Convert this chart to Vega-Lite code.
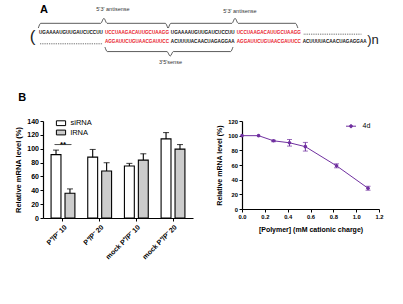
{
  "$schema": "https://vega.github.io/schema/vega-lite/v6.json",
  "background": "white",
  "padding": {"left": 13, "top": 0, "right": 0, "bottom": 0},
  "bounds": "flush",
  "spacing": 21,
  "resolve": {
    "scale": {"color": "independent", "fill": "independent"},
    "legend": {"color": "independent", "fill": "independent"}
  },
  "datasets": {
    "sequence": [
      {"pos": 0, "line": 0, "seq": "UGAAAAUGUUGAUCUCCUU", "kind": "linker"},
      {"pos": 19, "line": 0, "seq": "UCCUAAGACAUUGCUAAGG", "kind": "duplex"},
      {"pos": 38, "line": 0, "seq": "UGAAAAUGUUGAUCUCCUU", "kind": "linker"},
      {"pos": 57, "line": 0, "seq": "UCCUAAGACAUUGCUAAGG", "kind": "duplex"},
      {"pos": 19, "line": 1, "seq": "AGGAUUCUGUAACGAUUCC", "kind": "duplex"},
      {"pos": 38, "line": 1, "seq": "ACUUUUACAACUAGAGGAA", "kind": "linker"},
      {"pos": 57, "line": 1, "seq": "AGGAUUCUGUAACGAUUCC", "kind": "duplex"},
      {"pos": 76, "line": 1, "seq": "ACUUUUACAACUAGAGGAA", "kind": "linker"}
    ],
    "gaps": [
      {"pos": 76.3, "pos2": 93.0, "line": 0.15},
      {"pos": 0.3, "pos2": 18.3, "line": 1.15}
    ],
    "braces": [
      {"brace": "as1", "pos": -0.2, "line": -0.49},
      {"brace": "as1", "pos": 0.5, "line": -0.98},
      {"brace": "as1", "pos": 17.8, "line": -0.98},
      {"brace": "as1", "pos": 18.7, "line": -1.5},
      {"brace": "as1", "pos": 19.6, "line": -0.98},
      {"brace": "as1", "pos": 36.4, "line": -0.98},
      {"brace": "as1", "pos": 37.1, "line": -0.49},
      {"brace": "as2", "pos": 37.3, "line": -0.49},
      {"brace": "as2", "pos": 38.0, "line": -0.98},
      {"brace": "as2", "pos": 55.6, "line": -0.98},
      {"brace": "as2", "pos": 56.5, "line": -1.5},
      {"brace": "as2", "pos": 57.4, "line": -0.98},
      {"brace": "as2", "pos": 73.9, "line": -0.98},
      {"brace": "as2", "pos": 74.6, "line": -0.49},
      {"brace": "s", "pos": 19.0, "line": 1.49},
      {"brace": "s", "pos": 19.7, "line": 1.96},
      {"brace": "s", "pos": 36.9, "line": 1.96},
      {"brace": "s", "pos": 37.8, "line": 2.43},
      {"brace": "s", "pos": 38.7, "line": 1.96},
      {"brace": "s", "pos": 55.2, "line": 1.96},
      {"brace": "s", "pos": 55.9, "line": 1.49}
    ],
    "braceLabels": [
      {"pos": 21.3, "line": -2.44, "label": "5'3' antisense"},
      {"pos": 57.9, "line": -2.26, "label": "5'3' antisense"},
      {"pos": 37.9, "line": 3.05, "label": "3'5'sense"}
    ],
    "panels": [
      {"pos": 0.29, "line": -2.36, "panel": "A"},
      {"pos": -5.97, "line": 6.75, "panel": "B"}
    ],
    "repeatOpen": [
      {"pos": -1.87, "line": 0.4, "glyph": "("}
    ],
    "repeatClose": [
      {"pos": 94.6, "line": 0.72, "glyph": ")n"}
    ],
    "knockdown": [
      {"sample": "P⁺/P⁻ 10", "probe": "siRNA", "level": 91.5, "upper": 98},
      {"sample": "P⁺/P⁻ 10", "probe": "lRNA", "level": 35.8, "upper": 42},
      {"sample": "P⁺/P⁻ 20", "probe": "siRNA", "level": 87.8, "upper": 98.9},
      {"sample": "P⁺/P⁻ 20", "probe": "lRNA", "level": 67.8, "upper": 79.8},
      {"sample": "mock P⁺/P⁻ 10", "probe": "siRNA", "level": 75, "upper": 78.8},
      {"sample": "mock P⁺/P⁻ 10", "probe": "lRNA", "level": 83.6, "upper": 92.7},
      {"sample": "mock P⁺/P⁻ 20", "probe": "siRNA", "level": 114.2, "upper": 123.3},
      {"sample": "mock P⁺/P⁻ 20", "probe": "lRNA", "level": 99.4, "upper": 106}
    ],
    "significance": [
      {"sample": "P⁺/P⁻ 10", "level": 106, "stars": "**"}
    ],
    "doseResponse": [
      {"conc": 0, "level": 100, "lo": null, "hi": null, "series": "4d"},
      {"conc": 0.145, "level": 100, "lo": null, "hi": null, "series": "4d"},
      {"conc": 0.276, "level": 93, "lo": 91.8, "hi": 93.8, "series": "4d"},
      {"conc": 0.416, "level": 90.3, "lo": 85.8, "hi": 94.8, "series": "4d"},
      {"conc": 0.555, "level": 85, "lo": 79, "hi": 90.8, "series": "4d"},
      {"conc": 0.828, "level": 58.9, "lo": 56.2, "hi": 61.6, "series": "4d"},
      {"conc": 1.104, "level": 28.3, "lo": 25.6, "hi": 31, "series": "4d"}
    ]
  },
  "vconcat": [
    {
      "width": 360,
      "height": 100,
      "layer": [
        {
          "data": {"name": "sequence"},
          "mark": {"type": "text", "align": "left", "baseline": "middle", "fontSize": 4.6, "fontWeight": "bold"},
          "encoding": {
            "x": {"field": "pos", "type": "quantitative", "scale": {"domain": [1.153, 104.9], "nice": false, "zero": false}, "axis": null},
            "y": {"field": "line", "type": "quantitative", "scale": {"domain": [-3.406, 7.0], "nice": false, "zero": false, "reverse": true}, "axis": null},
            "text": {"field": "seq"},
            "color": {"field": "kind", "type": "nominal", "scale": {"domain": ["linker", "duplex"], "range": ["#111111", "#e8202a"]}, "legend": null}
          }
        },
        {
          "data": {"name": "gaps"},
          "mark": {"type": "rule", "color": "#222", "strokeWidth": 0.8, "strokeDash": [0.8, 1]},
          "encoding": {
            "x": {"field": "pos", "type": "quantitative"},
            "x2": {"field": "pos2"},
            "y": {"field": "line", "type": "quantitative"}
          }
        },
        {
          "data": {"name": "braces"},
          "mark": {"type": "line", "color": "#333", "strokeWidth": 0.8, "interpolate": "monotone"},
          "encoding": {
            "x": {"field": "pos", "type": "quantitative"},
            "y": {"field": "line", "type": "quantitative"},
            "detail": {"field": "brace"}
          }
        },
        {
          "data": {"name": "braceLabels"},
          "mark": {"type": "text", "align": "center", "baseline": "middle", "fontSize": 5.5, "color": "#333"},
          "encoding": {
            "x": {"field": "pos", "type": "quantitative"},
            "y": {"field": "line", "type": "quantitative"},
            "text": {"field": "label"}
          }
        },
        {
          "data": {"name": "panels"},
          "mark": {"type": "text", "align": "left", "baseline": "middle", "fontSize": 11, "fontWeight": "bold", "color": "#000"},
          "encoding": {
            "x": {"field": "pos", "type": "quantitative"},
            "y": {"field": "line", "type": "quantitative"},
            "text": {"field": "panel"}
          }
        },
        {
          "data": {"name": "repeatOpen"},
          "mark": {"type": "text", "align": "center", "baseline": "middle", "fontSize": 17, "fontWeight": 300, "color": "#222"},
          "encoding": {
            "x": {"field": "pos", "type": "quantitative"},
            "y": {"field": "line", "type": "quantitative"},
            "text": {"field": "glyph"}
          }
        },
        {
          "data": {"name": "repeatClose"},
          "mark": {"type": "text", "align": "left", "baseline": "middle", "fontSize": 13, "fontWeight": 300, "color": "#222"},
          "encoding": {
            "x": {"field": "pos", "type": "quantitative"},
            "y": {"field": "line", "type": "quantitative"},
            "text": {"field": "glyph"}
          }
        }
      ]
    },
    {
      "bounds": "flush",
      "spacing": 49,
      "resolve": {
        "scale": {"color": "independent", "fill": "independent"},
        "legend": {"color": "independent", "fill": "independent"}
      },
      "hconcat": [
        {
          "width": 150,
          "height": 97,
          "data": {"name": "knockdown"},
          "encoding": {
            "x": {"field": "sample", "type": "nominal", "sort": null, "scale": {"paddingInner": 0.35, "paddingOuter": 0.22}, "axis": {"title": null, "labelAngle": -45, "labelFontSize": 7, "labelPadding": 2, "labelOverlap": false}}
          },
          "layer": [
            {
              "mark": {"type": "bar", "stroke": "#000", "strokeWidth": 1.1},
              "encoding": {
                "xOffset": {"field": "probe", "type": "nominal", "sort": ["siRNA", "lRNA"], "scale": {"paddingInner": 0.29, "paddingOuter": 0}},
                "y": {"field": "level", "type": "quantitative", "scale": {"domain": [0, 140], "nice": false}, "axis": {"tickCount": 20, "values": [0, 20, 40, 60, 80, 100, 120, 140], "labelOverlap": false, "labelFlush": false, "labelBound": false, "title": "Relative mRNA level (%)", "titleX": -21, "titleFontSize": 7.5, "labelFontSize": 7}},
                "fill": {"field": "probe", "type": "nominal", "sort": ["siRNA", "lRNA"], "scale": {"domain": ["siRNA", "lRNA"], "range": ["#ffffff", "#cccccc"]},
                  "legend": {"orient": "none", "legendX": 13.5, "legendY": -2.3, "title": null, "symbolType": "M-1.15,-0.6H1.15V0.6H-1.15Z", "symbolSize": 64, "symbolStrokeColor": "#000", "symbolStrokeWidth": 1, "labelFontSize": 7.5, "labelOffset": 5, "rowPadding": 0.3, "padding": 0}}
              }
            },
            {
              "mark": {"type": "rule", "color": "#000", "strokeWidth": 1.1},
              "encoding": {
                "xOffset": {"field": "probe", "type": "nominal", "sort": ["siRNA", "lRNA"]},
                "y": {"field": "level", "type": "quantitative"},
                "y2": {"field": "upper"}
              }
            },
            {
              "mark": {"type": "tick", "orient": "horizontal", "color": "#000", "size": 6, "thickness": 1.1},
              "encoding": {
                "xOffset": {"field": "probe", "type": "nominal", "sort": ["siRNA", "lRNA"]},
                "y": {"field": "upper", "type": "quantitative"}
              }
            },
            {
              "data": {"name": "significance"},
              "mark": {"type": "tick", "orient": "horizontal", "color": "#000", "size": 17, "thickness": 1},
              "encoding": {
                "y": {"field": "level", "type": "quantitative"}
              }
            },
            {
              "data": {"name": "significance"},
              "mark": {"type": "text", "fontSize": 8, "fontWeight": "bold", "baseline": "alphabetic", "dy": 2, "color": "#000"},
              "encoding": {
                "y": {"field": "level", "type": "quantitative"},
                "text": {"field": "stars"}
              }
            }
          ]
        },
        {
          "width": 137,
          "height": 88,
          "data": {"name": "doseResponse"},
          "encoding": {
            "x": {"field": "conc", "type": "quantitative", "scale": {"domain": [0, 1.2], "nice": false}, "axis": {"tickCount": 20, "values": [0, 0.2, 0.4, 0.6, 0.8, 1.0, 1.2], "format": ".1f", "labelOverlap": false, "labelFlush": false, "labelBound": false, "title": "[Polymer] (mM cationic charge)", "titleFontSize": 7, "titleBaseline": "middle", "titleY": 20, "labelFontSize": 5.8}}
          },
          "layer": [
            {
              "mark": {"type": "rule", "color": "#7030a0", "strokeWidth": 1},
              "encoding": {
                "y": {"field": "lo", "type": "quantitative", "scale": {"domain": [0, 120], "nice": false}, "axis": {"tickCount": 20, "values": [0, 20, 40, 60, 80, 100, 120], "labelOverlap": false, "labelFlush": false, "labelBound": false, "title": "Relative mRNA level (%)", "titleX": -20, "titleFontSize": 7, "labelFontSize": 5.8}},
                "y2": {"field": "hi"}
              }
            },
            {
              "mark": {"type": "tick", "orient": "horizontal", "color": "#7030a0", "size": 5, "thickness": 1},
              "encoding": {
                "y": {"field": "lo", "type": "quantitative"}
              }
            },
            {
              "mark": {"type": "tick", "orient": "horizontal", "color": "#7030a0", "size": 5, "thickness": 1},
              "encoding": {
                "y": {"field": "hi", "type": "quantitative"}
              }
            },
            {
              "mark": {"type": "line", "strokeWidth": 1, "point": {"filled": true, "size": 13}},
              "encoding": {
                "y": {"field": "level", "type": "quantitative"},
                "color": {"field": "series", "type": "nominal", "scale": {"domain": ["4d"], "range": ["#7030a0"]},
                  "legend": {"orient": "none", "legendX": 103.5, "legendY": -0.3, "title": null, "symbolType": "M-1,0H1M-0.3,0A0.3,0.3,0,1,1,0.3,0A0.3,0.3,0,1,1,-0.3,0Z", "symbolSize": 100, "symbolStrokeWidth": 1, "symbolFillColor": "#7030a0", "symbolStrokeColor": "#7030a0", "labelFontSize": 7, "labelOffset": 6, "padding": 0}}
              }
            }
          ]
        }
      ]
    }
  ],
  "config": {
    "font": "Liberation Sans",
    "view": {"stroke": null},
    "axis": {
      "grid": false,
      "labelOverlap": false,
      "domainColor": "#000",
      "domainWidth": 1.2,
      "tickColor": "#000",
      "tickWidth": 1,
      "tickSize": 3,
      "labelColor": "#000",
      "labelFontWeight": "bold",
      "labelPadding": 1.5,
      "titleColor": "#000",
      "titleFontWeight": "bold"
    },
    "legend": {"labelColor": "#000"}
  }
}
